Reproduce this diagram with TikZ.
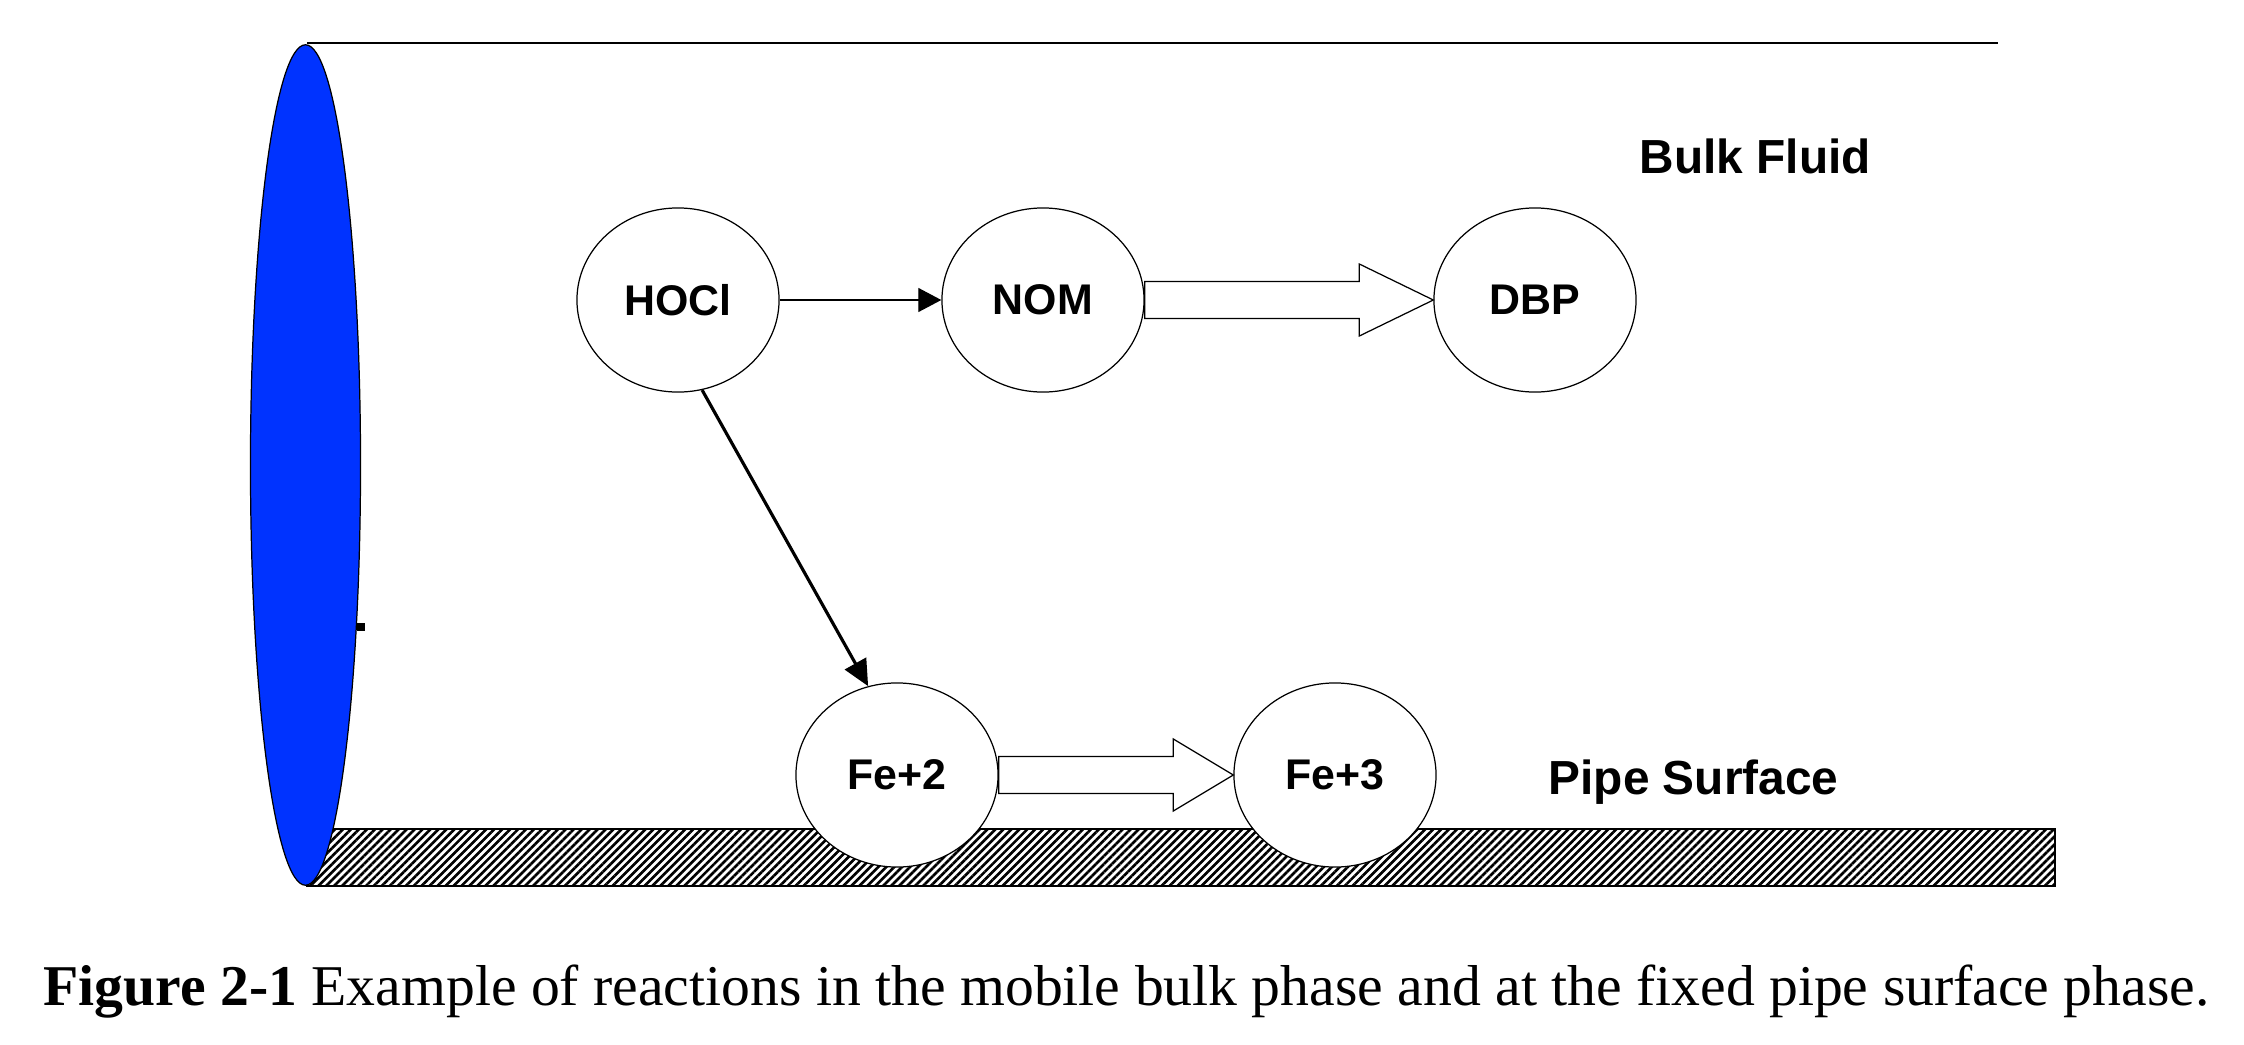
\documentclass[tikz,border=0pt]{standalone}
\usepackage{fontspec}
\setmainfont{Liberation Serif}
\setsansfont{Liberation Sans}
\usetikzlibrary{shapes.geometric,arrows.meta,patterns.meta,calc}
\pgfdeclarelayer{bg}
\pgfsetlayers{bg,main}
\definecolor{pipeblue}{RGB}{0,51,255}
\tikzset{
    species/.style={ellipse, draw, fill=white, line width=0.35pt, inner sep=0mm,
        minimum width=2.02cm, minimum height=1.84cm,
        font=\sffamily\bfseries\fontsize{12.2}{14}\selectfont}
}
\tikzset{
    phase/.style={anchor=base west, inner sep=0mm,
        font=\sffamily\bfseries\fontsize{13.6}{16}\selectfont},
    fatarrow/.style={draw, fill=white, line width=0.35pt, line join=miter}
}

\begin{document}
\begin{tikzpicture}[x=0.01cm, y=-0.01cm]
    \useasboundingbox (0,0) rectangle (2244,1045);

    \begin{pgfonlayer}{bg}
        \draw[line width=0.6pt] (307,43) -- (1998,43);
        \draw[line width=0.5pt, pattern={Lines[angle=45,distance=1.6pt,line width=0.75pt]}]
            (307,829) rectangle (2055,886);
    \end{pgfonlayer}

    % pipe cross section
    \filldraw[fill=pipeblue, draw=black, line width=0.35pt] (305.5,465) ellipse [x radius=0.55cm, y radius=4.2cm];
    \fill (357,623) rectangle (365,631);

    \node (hoci) at (678,300) [species] {HOCl};
    \node (nom) at (1043,300) [species] {NOM};
    \node (dbp) at (1535,300) [species] {DBP};
    \node (fetwo) at (897,775) [species] {Fe+2};
    \node (fethree) at (1335,775) [species] {Fe+3};

    \node (bulk) at (1639,173) [phase] {Bulk Fluid};
    \node (surface) at (1548,794) [phase] {Pipe Surface};

    \draw[line width=0.35pt, -{Triangle[length=0.23cm, width=0.24cm]}] (hoci) -- (nom);
    \draw[line width=0.9pt, -{Triangle[length=0.26cm, width=0.24cm]}] (hoci.-75) -- (fetwo.108);

    \draw[fatarrow] ($(nom.east)+(0,-18.5)$) -- ($(dbp.west)+(-74,-18.5)$) -- ($(dbp.west)+(-74,-36)$)
        -- (dbp.west) -- ($(dbp.west)+(-74,36)$) -- ($(dbp.west)+(-74,18.5)$) -- ($(nom.east)+(0,18.5)$) -- cycle;
    \draw[fatarrow] ($(fetwo.east)+(0,-18.5)$) -- ($(fethree.west)+(-60,-18.5)$) -- ($(fethree.west)+(-60,-36)$)
        -- (fethree.west) -- ($(fethree.west)+(-60,36)$) -- ($(fethree.west)+(-60,18.5)$) -- ($(fetwo.east)+(0,18.5)$) -- cycle;

    \node (caption) at (43,1005) [anchor=base west, inner sep=0mm, font=\fontsize{16.4}{20}\selectfont]
        {\textbf{Figure 2-1} Example of reactions in the mobile bulk phase and at the fixed pipe surface phase.};
\end{tikzpicture}
\end{document}
